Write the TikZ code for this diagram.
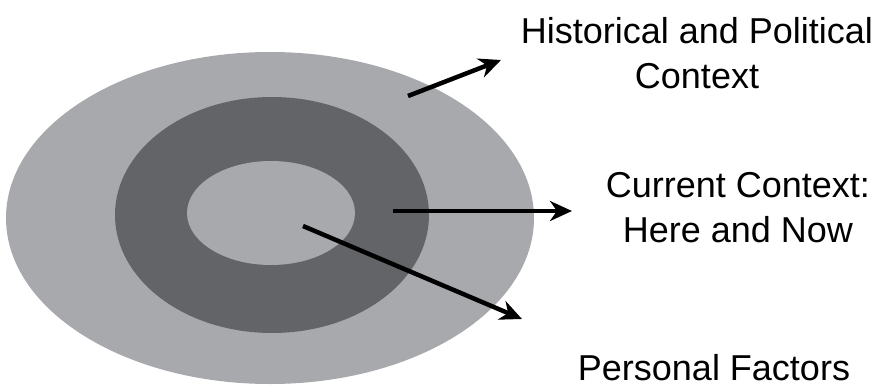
\documentclass[tikz,border=0pt]{standalone}
\usepackage{fontspec}
\setmainfont{Liberation Sans}
\usetikzlibrary{arrows.meta,positioning}
\definecolor{RingLight}{RGB}{167,169,172}
\definecolor{RingDark}{RGB}{99,100,104}

\begin{document}
\begin{tikzpicture}[
  x=1pt,y=-1pt,
  lbl/.style={align=center,font=\fontsize{36}{45}\selectfont,inner sep=0pt},
  arr/.style={-{Stealth[length=22pt,width=20pt,inset=7pt]},line width=4.5pt,black}
]
  \useasboundingbox (0,0) rectangle (879,388);
  % rings
  \fill[RingLight] (270,218) ellipse [x radius=264,y radius=166];
  \fill[RingDark] (272,215) ellipse [x radius=157,y radius=118];
  \fill[RingLight] (271,213) ellipse [x radius=84,y radius=52];
  % labels
  \node[lbl] (hist) at (697,53) {Historical and Political\\Context};
  \node[lbl] (curr) at (738,208) {Current Context:\\Here and Now};
  \node[lbl,anchor=base] (pers) at (714,380) {Personal Factors};
  % arrows
  \coordinate (histfrom) at (408,96);
  \coordinate (histto) at (501,60);
  \coordinate (currfrom) at (393,211);
  \coordinate (currto) at (572,211);
  \coordinate (persfrom) at (303,226);
  \coordinate (persto) at (522,319);
  \draw[arr] (histfrom) -- (histto);
  \draw[arr] (currfrom) -- (currto);
  \draw[arr] (persfrom) -- (persto);
\end{tikzpicture}
\end{document}
